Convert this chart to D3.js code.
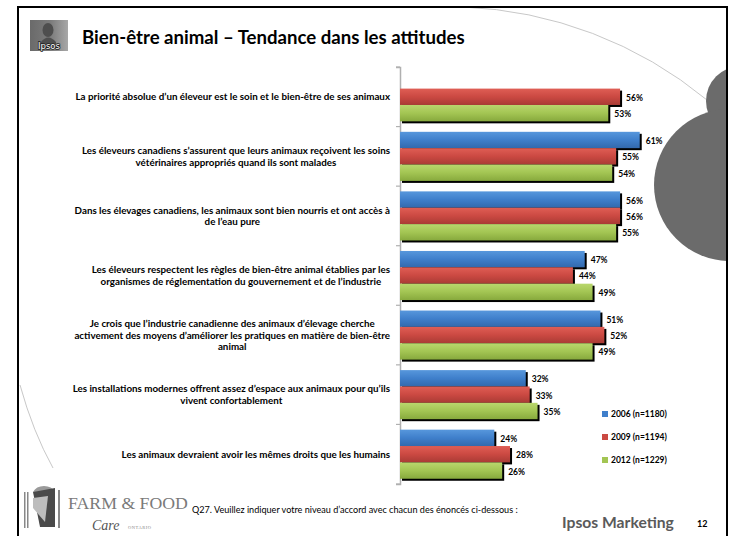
<!DOCTYPE html>
<html>
<head>
<meta charset="utf-8">
<script src="https://d3js.org/d3.v7.min.js"></script>
<style>
  html, body { margin: 0; padding: 0; background: #fff; }
  svg { display: block; }
</style>
</head>
<body>
<script>
// data
const categories = [
  "La priorité absolue d’un éleveur est le soin et le bien-être de ses animaux",
  "Les éleveurs canadiens s’assurent que leurs animaux reçoivent les soins\nvétérinaires appropriés quand ils sont malades",
  "Dans les élevages canadiens, les animaux sont bien nourris et ont accès à\nde l’eau pure",
  "Les éleveurs respectent les règles de bien-être animal établies par les\norganismes de réglementation du gouvernement et de l’industrie",
  "Je crois que l’industrie canadienne des animaux d’élevage cherche\nactivement des moyens d’améliorer les pratiques en matière de bien-être\nanimal",
  "Les installations modernes offrent assez d’espace aux animaux pour qu’ils\nvivent confortablement",
  "Les animaux devraient avoir les mêmes droits que les humains"
];
const seriesNames = ["2006 (n=1180)", "2009 (n=1194)", "2012 (n=1229)"];
const values2006 = [null, 61, 56, 47, 51, 32, 24];
const values2009 = [56, 55, 56, 44, 52, 33, 28];
const values2012 = [53, 54, 55, 49, 49, 35, 26];

const title = "Bien-être animal – Tendance dans les attitudes";
const footnote = "Q27. Veuillez indiquer votre niveau d’accord avec chacun des énoncés ci-dessous :";

const width = 729, height = 536;
const font = "Lato, 'Open Sans', sans-serif";

const svg = d3.select("body").append("svg")
  .attr("width", width)
  .attr("height", height)
  .attr("font-family", font);

const defs = svg.append("defs");

// bar gradients (excel 2007 look)
const barColors = [
  ["#5797dc", "#3f7fcb", "#3369ad"],
  ["#df5e55", "#cb4942", "#a93b35"],
  ["#b9d76d", "#a3c553", "#87a93d"]
];
barColors.forEach((c, i) => {
  const g = defs.append("linearGradient")
    .attr("id", "grad" + i)
    .attr("x1", 0).attr("y1", 0).attr("x2", 0).attr("y2", 1);
  g.append("stop").attr("offset", "0%").attr("stop-color", c[0]);
  g.append("stop").attr("offset", "50%").attr("stop-color", c[1]);
  g.append("stop").attr("offset", "100%").attr("stop-color", c[2]);
});

const logoGrad = defs.append("linearGradient").attr("id", "logoGrad")
  .attr("x1", 0).attr("y1", 0).attr("x2", 1).attr("y2", 0);
logoGrad.append("stop").attr("offset", "0%").attr("stop-color", "#6a6a6a");
logoGrad.append("stop").attr("offset", "55%").attr("stop-color", "#7c7c7c");
logoGrad.append("stop").attr("offset", "100%").attr("stop-color", "#a8a8a8");

defs.append("clipPath").attr("id", "slideClip")
  .append("rect").attr("x", 18).attr("y", 7).attr("width", 709).attr("height", 529);

// background decoration
const deco = svg.append("g").attr("clip-path", "url(#slideClip)");
deco.append("path")
  .attr("d", "M463,7 A408,408 0 0 1 707,100")
  .attr("fill", "none").attr("stroke", "#c8c8c8").attr("stroke-width", 1);
deco.append("path")
  .attr("d", "M20,385 Q33,432 53,468")
  .attr("fill", "none").attr("stroke", "#c8c8c8").attr("stroke-width", 1);
deco.append("circle").attr("cx", 741).attr("cy", 101).attr("r", 35).attr("fill", "#6b6b6b");
deco.append("circle").attr("cx", 730).attr("cy", 185).attr("r", 76).attr("fill", "#6b6b6b");

// slide frame
svg.append("path")
  .attr("d", "M18,536 L18,7 L727,7 L727,536")
  .attr("fill", "none").attr("stroke", "#000").attr("stroke-width", 2);

// ipsos logo
const logo = svg.append("g");
logo.append("rect").attr("x", 30).attr("y", 20).attr("width", 38).attr("height", 31).attr("fill", "url(#logoGrad)");
logo.append("ellipse").attr("cx", 48).attr("cy", 30).attr("rx", 5.5).attr("ry", 7).attr("fill", "#4e4e4e");
logo.append("path").attr("d", "M41,42 Q48,33 56,42 L56,44 L41,44 Z").attr("fill", "#4e4e4e");
logo.append("text").attr("x", 49).attr("y", 48.5).attr("text-anchor", "middle")
  .attr("font-family", "'DejaVu Sans', sans-serif")
  .attr("font-size", 8.5).attr("fill", "#fff")
  .attr("stroke", "#222").attr("stroke-width", 1.6).attr("paint-order", "stroke")
  .text("Ipsos");

function fitWidth(sel, w) {
  const cur = sel.node().getComputedTextLength();
  const fs = parseFloat(sel.attr("font-size"));
  sel.attr("font-size", fs * w / cur);
}

// title
const titleText = svg.append("text")
  .attr("x", 82).attr("y", 44)
  .attr("font-size", 16).attr("font-weight", "bold").attr("fill", "#000")
  .text(title);
fitWidth(titleText, 383);

// scales
const x = d3.scaleLinear().domain([0, 100]).range([400, 793]);
const y = d3.scaleBand().domain(d3.range(categories.length)).range([67, 484]);
const ySeries = d3.scaleBand().domain([0, 1, 2]).range([0, y.bandwidth()]).paddingOuter(0.32);

const allSeries = [values2006, values2009, values2012];

// axis
const axis = svg.append("g")
  .attr("transform", `translate(${x(0)},0)`)
  .call(d3.axisLeft(y).tickValues([]).tickSizeOuter(4));
axis.select(".domain").attr("stroke", "#b0b0b0").attr("stroke-width", 1.5);
axis.selectAll(".bound")
  .data(d3.range(categories.length + 1))
  .join("line")
    .attr("class", "bound")
    .attr("x1", -4).attr("x2", 0)
    .attr("y1", i => i < categories.length ? y(i) : y.range()[1])
    .attr("y2", i => i < categories.length ? y(i) : y.range()[1])
    .attr("stroke", "#b0b0b0").attr("stroke-width", 1.2);

// bars
const groups = svg.append("g").selectAll("g")
  .data(categories)
  .join("g")
    .attr("transform", (d, i) => `translate(0,${y(i)})`);

groups.each(function(d, i) {
  const g = d3.select(this);
  allSeries.forEach((vals, s) => {
    const v = vals[i];
    if (v == null) return;
    const by = ySeries(s), bh = ySeries.bandwidth();
    g.append("rect")
      .attr("x", x(0) + 2).attr("y", by + 2)
      .attr("width", x(v) - x(0)).attr("height", bh)
      .attr("fill", "#000");
    g.append("rect")
      .attr("x", x(0)).attr("y", by)
      .attr("width", x(v) - x(0)).attr("height", bh)
      .attr("fill", `url(#grad${s})`);
  });
  allSeries.forEach((vals, s) => {
    const v = vals[i];
    if (v == null) return;
    g.append("text")
      .attr("x", x(v) + 6)
      .attr("y", ySeries(s) + ySeries.bandwidth() / 2 + 1)
      .attr("dy", "0.35em")
      .attr("font-size", 8.5).attr("font-weight", "bold").attr("fill", "#000")
      .text(v + "%");
  });
});

// category labels
const probe = svg.append("text").attr("font-size", 10).attr("font-weight", "bold")
  .text(categories[0].split("\n")[0]);
const catSize = 10 * 315 / probe.node().getComputedTextLength();
probe.remove();

const lineH = 11.7;
categories.forEach((c, i) => {
  const lines = c.split("\n");
  const t = svg.append("text")
    .attr("font-size", catSize).attr("font-weight", "bold").attr("fill", "#000")
    .attr("text-anchor", "middle");
  const cy = y(i) + y.bandwidth() / 2;
  lines.forEach((ln, k) => {
    t.append("tspan")
      .attr("y", cy + (k - (lines.length - 1) / 2) * lineH)
      .attr("dy", "0.35em")
      .text(ln);
  });
  let maxW = 0;
  t.selectAll("tspan").each(function() {
    maxW = Math.max(maxW, this.getComputedTextLength());
  });
  t.selectAll("tspan").attr("x", 390 - maxW / 2);
});

// legend
const legend = svg.append("g").selectAll("g")
  .data(seriesNames)
  .join("g")
    .attr("transform", (d, i) => `translate(602,${414 + i * 23})`);
legend.append("rect")
  .attr("x", 0).attr("y", -3).attr("width", 6).attr("height", 6)
  .attr("fill", (d, i) => barColors[i][1]);
legend.append("text")
  .attr("x", 9).attr("dy", "0.35em")
  .attr("font-size", 8.5).attr("font-weight", "bold").attr("fill", "#000")
  .text(d => d);

// farm & food care logo
const ff = svg.append("g");
ff.append("path").attr("d", "M33,492 A12,10 0 0 1 55,492 Z").attr("fill", "#9a9a9a");
ff.append("path").attr("d", "M33,492 L55,488 L55,527 L40,527 Z").attr("fill", "#4a4a4a");
ff.append("path").attr("d", "M33,498 L48,496 L45,522 L33,508 Z").attr("fill", "#bdbdbd");
ff.append("rect").attr("x", 24).attr("y", 492).attr("width", 1.5).attr("height", 36).attr("fill", "#888");
ff.append("rect").attr("x", 27).attr("y", 492).attr("width", 1.5).attr("height", 36).attr("fill", "#888");
ff.append("rect").attr("x", 58).attr("y", 490).attr("width", 2).attr("height", 38).attr("fill", "#888");
const farm = ff.append("text")
  .attr("x", 68).attr("y", 509)
  .attr("font-family", "'Liberation Serif', 'DejaVu Serif', serif")
  .attr("font-size", 15).attr("fill", "#7a7a7a")
  .text("FARM & FOOD");
fitWidth(farm, 120);
ff.append("text")
  .attr("x", 92).attr("y", 530)
  .attr("font-family", "'Liberation Serif', 'DejaVu Serif', serif")
  .attr("font-style", "italic")
  .attr("font-size", 14).attr("fill", "#555")
  .text("Care");
ff.append("text")
  .attr("x", 128).attr("y", 529)
  .attr("font-family", "'Liberation Serif', 'DejaVu Serif', serif")
  .attr("font-size", 4.5).attr("fill", "#888")
  .attr("letter-spacing", 0.5)
  .text("ONTARIO");

// footnote
const fn = svg.append("text")
  .attr("x", 192).attr("y", 513)
  .attr("font-size", 8).attr("fill", "#000")
  .text(footnote);
fitWidth(fn, 326);

// ipsos marketing + page number
const im = svg.append("text")
  .attr("x", 562).attr("y", 528)
  .attr("font-size", 15).attr("font-weight", "bold").attr("fill", "#5a5a5a")
  .text("Ipsos Marketing");
fitWidth(im, 112);

svg.append("text")
  .attr("x", 697).attr("y", 527)
  .attr("font-size", 9).attr("font-weight", "bold").attr("fill", "#000")
  .text("12");
</script>
</body>
</html>
